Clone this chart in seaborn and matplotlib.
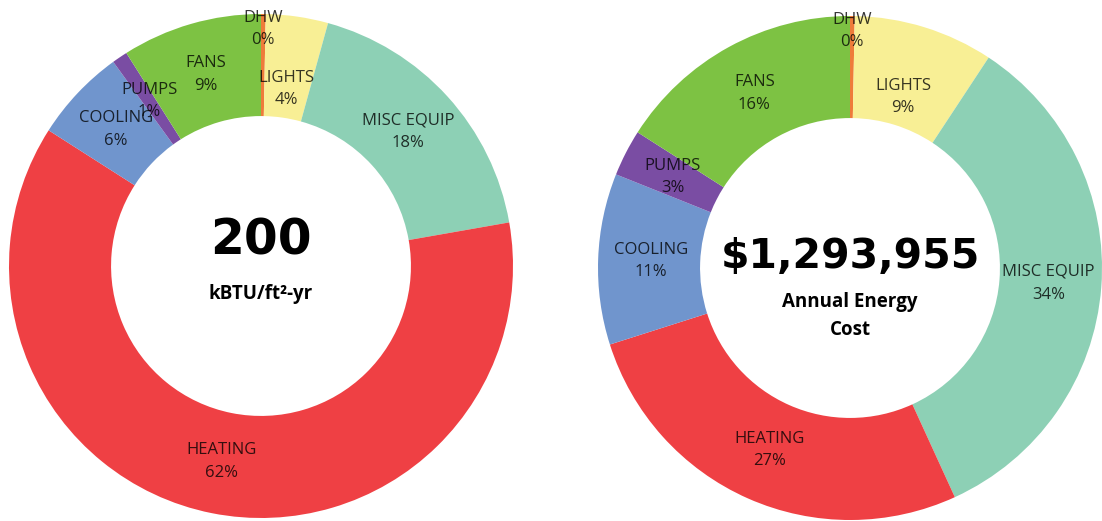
import numpy as np
import matplotlib.pyplot as plt
import seaborn as sns

# slices, clockwise from 12 o'clock
categories = ["DHW", "LIGHTS", "MISC EQUIP", "HEATING", "COOLING", "PUMPS", "FANS"]
eui_share = [0.3, 4, 18, 62, 6, 1, 9]
cost_share = [0.3, 9, 34, 27, 11, 3, 16]

eui_total = "200"
eui_unit = "kBTU/ft\u00b2-yr"
cost_total = "$1,293,955"
cost_unit = "Annual Energy\nCost"

colors = ["#EE7B3A", "#F8EF95", "#8DD0B5", "#EF4044", "#7095CD", "#7A4DA3", "#7DC243"]
# label radius per slice (DHW pushed out, LIGHTS pulled in to avoid overlap)
label_r = {"DHW": 0.94, "LIGHTS": 0.71}

sns.set_theme(style="white")
plt.rcParams["font.family"] = ["Open Sans", "DejaVu Sans"]

W, H = 1102, 521
fig = plt.figure(figsize=(W / 100, H / 100), dpi=100)


def donut(cx, cy, rad, values, big, small, big_size, big_y, small_y):
    ax = fig.add_axes([(cx - rad) / W, (H - cy - rad) / H, 2 * rad / W, 2 * rad / H])
    ax.pie(values, colors=colors, startangle=90, counterclock=False,
           radius=1, wedgeprops=dict(width=0.405, linewidth=0))
    total = sum(values)
    start = 0.0
    for cat, v in zip(categories, values):
        mid = (start + v / 2) / total * 2 * np.pi
        start += v
        r = label_r.get(cat, 0.79)
        ax.text(r * np.sin(mid), r * np.cos(mid), f"{cat}\n{v:.0f}%",
                ha="center", va="center", fontsize=12, color="black", alpha=0.78,
                linespacing=1.55)
    ax.text(0, big_y, big, ha="center", va="center", fontsize=big_size,
            fontweight="bold", color="black", family="DejaVu Sans")
    ax.text(0, small_y, small, ha="center", va="center", fontsize=13.5,
            fontweight="bold", color="black", linespacing=1.5)
    ax.set_xlim(-1, 1)
    ax.set_ylim(-1, 1)
    ax.axis("off")


donut(261, 266, 252, eui_share, eui_total, eui_unit, 35, 0.1, -0.11)
donut(850, 268, 252, cost_share, cost_total, cost_unit, 29.5, 0.045, -0.19)

fig.savefig("out.png", dpi=100)
